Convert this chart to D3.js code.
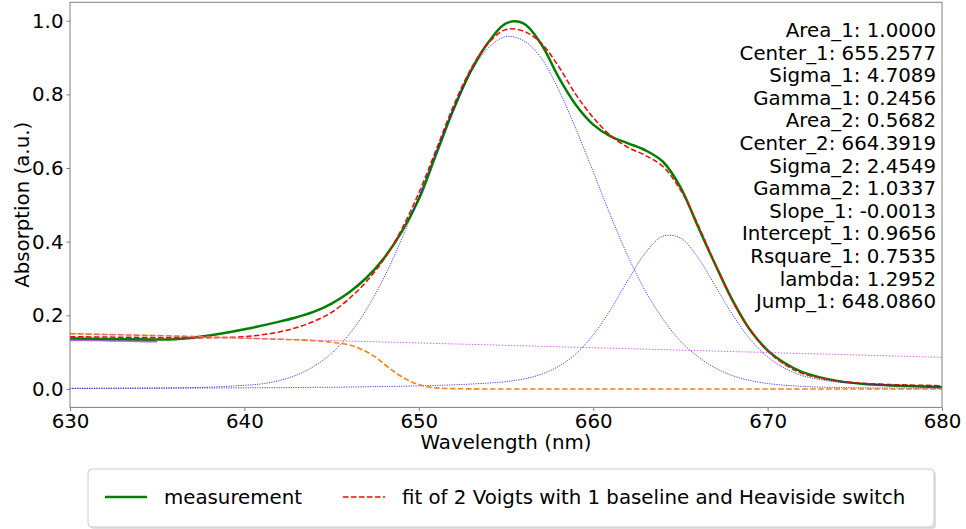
<!DOCTYPE html>
<html>
<head>
<meta charset="utf-8">
<script src="https://cdn.jsdelivr.net/npm/d3@7"></script>
<style>
  body { margin: 0; background: #fff; }
  svg text { font-family: "DejaVu Sans", sans-serif; fill: #000; }
</style>
</head>
<body>
<div id="chart"></div>
<script>
// wavelength grid shared by measurement, fit and the two Voigt components (nm)
var wavelength = [630, 632, 634, 636, 638, 640, 641, 642, 643, 644, 645, 646, 647, 648, 649, 650,
  651, 652, 653, 654, 655, 656, 657, 658, 659, 660, 661, 662, 663, 664, 665, 666, 667, 668, 669, 670,
  671, 672, 674, 676, 678, 680];

var measurement = [0.138, 0.136, 0.135, 0.135, 0.145, 0.162, 0.172, 0.183, 0.195, 0.210, 0.232, 0.262,
  0.302, 0.355, 0.425, 0.515, 0.638, 0.760, 0.865, 0.942, 0.993, 0.993, 0.938, 0.848, 0.772, 0.718,
  0.686, 0.667, 0.648, 0.617, 0.548, 0.442, 0.338, 0.240, 0.160, 0.105, 0.070, 0.046, 0.022, 0.012,
  0.008, 0.005];

var fit = [0.142, 0.141, 0.140, 0.139, 0.139, 0.142, 0.147, 0.155, 0.167, 0.184, 0.208, 0.245,
  0.292, 0.352, 0.432, 0.532, 0.650, 0.770, 0.870, 0.940, 0.976, 0.972, 0.940, 0.877, 0.800, 0.737,
  0.688, 0.656, 0.634, 0.604, 0.541, 0.447, 0.338, 0.238, 0.159, 0.103, 0.066, 0.042, 0.022, 0.014,
  0.011, 0.009];

var voigt1 = [0.0015, 0.002, 0.0025, 0.003, 0.005, 0.010, 0.014, 0.023, 0.038, 0.062, 0.097, 0.148,
  0.216, 0.302, 0.405, 0.522, 0.645, 0.760, 0.860, 0.927, 0.957, 0.946, 0.900, 0.814, 0.707, 0.590,
  0.470, 0.360, 0.265, 0.190, 0.130, 0.088, 0.057, 0.036, 0.023, 0.015, 0.010, 0.007, 0.004, 0.003,
  0.002, 0.0015];

var voigt2 = [0.0016, 0.0018, 0.002, 0.0023, 0.0027, 0.0031, 0.0033, 0.0036, 0.004, 0.0044, 0.0048,
  0.0053, 0.006, 0.0066, 0.0075, 0.0085, 0.0098, 0.0113, 0.0134, 0.0161, 0.020, 0.027, 0.0395, 0.061,
  0.095, 0.147, 0.216, 0.296, 0.370, 0.415, 0.410, 0.357, 0.280, 0.201, 0.135, 0.087, 0.056, 0.036,
  0.019, 0.0128, 0.0095, 0.0073];

// heaviside-switched baseline (orange)
var stepWl = [630, 632, 634, 636, 638, 640, 642, 644, 645, 646, 646.5, 647, 647.5, 648, 648.5, 649,
  649.5, 650, 650.5, 651, 652, 654, 660, 680];
var stepVals = [0.150, 0.148, 0.146, 0.144, 0.141, 0.138, 0.135, 0.131, 0.127, 0.120, 0.112, 0.101,
  0.087, 0.068, 0.050, 0.034, 0.021, 0.012, 0.006, 0.003, 0.001, 0, 0, 0];

// linear baseline (magenta)
var baseWl = [630, 680];
var baseVals = [0.151, 0.086];

// baseline region of the measurement (purple)
var regionWl = [630, 631, 632, 633, 634, 635];
var regionVals = [0.134, 0.134, 0.133, 0.132, 0.131, 0.130];

var xTicks = [630, 640, 650, 660, 670, 680];
var yTicks = [0, 0.2, 0.4, 0.6, 0.8, 1.0];

var paramNames = ["Area_1", "Center_1", "Sigma_1", "Gamma_1", "Area_2", "Center_2", "Sigma_2",
  "Gamma_2", "Slope_1", "Intercept_1", "Rsquare_1", "lambda", "Jump_1"];
var paramValues = ["1.0000", "655.2577", "4.7089", "0.2456", "0.5682", "664.3919", "2.4549",
  "1.0337", "-0.0013", "0.9656", "0.7535", "1.2952", "648.0860"];

var legendLabels = ["measurement", "fit of 2 Voigts with 1 baseline and Heaviside switch"];

var W = 966, H = 529;
var margin = {left: 70, right: 24, top: 2.3, bottom: 121.6};
var fs = 19.8;

var svg = d3.select("#chart").append("svg")
  .attr("width", W).attr("height", H);

var x = d3.scaleLinear().domain([630, 680]).range([margin.left, W - margin.right]);
var y = d3.scaleLinear().domain([-0.05, 1.05]).range([H - margin.bottom, margin.top]);

function pts(xs, ys) {
  return xs.map(function(d, i) { return [d, ys[i]]; });
}
var line = d3.line()
  .x(function(d) { return x(d[0]); })
  .y(function(d) { return y(d[1]); })
  .curve(d3.curveCatmullRom.alpha(0.5));

var plot = svg.append("g");

plot.append("path").datum(pts(regionWl, regionVals)).attr("d", line)
  .attr("fill", "none").attr("stroke", "#b02ee6").attr("stroke-opacity", 0.8).attr("stroke-width", 3);

plot.append("path").datum(pts(wavelength, measurement)).attr("d", line)
  .attr("fill", "none").attr("stroke", "#008000").attr("stroke-width", 2.5);

plot.append("path").datum(pts(wavelength, fit)).attr("d", line)
  .attr("fill", "none").attr("stroke", "#ff0000").attr("stroke-width", 1.5)
  .attr("stroke-dasharray", "5.5,2.5");

[voigt1, voigt2].forEach(function(v) {
  plot.append("path").datum(pts(wavelength, v)).attr("d", line)
    .attr("fill", "none").attr("stroke", "#0000ff").attr("stroke-opacity", 0.75)
    .attr("stroke-width", 1).attr("stroke-dasharray", "1.2,1.2");
});

plot.append("path").datum(pts(stepWl, stepVals)).attr("d", line)
  .attr("fill", "none").attr("stroke", "#ff7f0e").attr("stroke-width", 1.6)
  .attr("stroke-dasharray", "5.5,2.5");

plot.append("path").datum(pts(baseWl, baseVals)).attr("d", line)
  .attr("fill", "none").attr("stroke", "#c040f0").attr("stroke-opacity", 0.8)
  .attr("stroke-width", 1).attr("stroke-dasharray", "1.5,1.5");

// frame
svg.append("rect")
  .attr("x", x(630)).attr("y", y(1.05))
  .attr("width", x(680) - x(630)).attr("height", y(-0.05) - y(1.05))
  .attr("fill", "none").attr("stroke", "#808080").attr("stroke-width", 1);

// axes
var xAxis = svg.append("g").attr("transform", "translate(0," + y(-0.05) + ")")
  .call(d3.axisBottom(x).tickValues(xTicks).tickSize(3.5).tickPadding(3).tickFormat(d3.format("d")));
var yAxis = svg.append("g").attr("transform", "translate(" + x(630) + ",0)")
  .call(d3.axisLeft(y).tickValues(yTicks).tickSize(3.5).tickPadding(3).tickFormat(d3.format(".1f")));

[xAxis, yAxis].forEach(function(a) {
  a.select(".domain").remove();
  a.selectAll(".tick line").attr("stroke", "#808080");
  a.selectAll(".tick text").attr("font-size", fs).attr("font-family", "DejaVu Sans").attr("fill", "#000");
});

svg.append("text").attr("x", x(655)).attr("y", 449)
  .attr("text-anchor", "middle").attr("font-size", fs).text("Wavelength (nm)");
svg.append("text")
  .attr("transform", "translate(29," + y(0.5) + ") rotate(-90)")
  .attr("text-anchor", "middle").attr("font-size", fs).text("Absorption (a.u.)");

// fit parameters
svg.append("g").selectAll("text").data(paramNames).enter().append("text")
  .attr("x", 936)
  .attr("y", function(d, i) { return 37 + i * 22.6; })
  .attr("text-anchor", "end").attr("font-size", fs)
  .text(function(d, i) { return d + ": " + paramValues[i]; });

// legend
var lg = svg.append("g");
lg.append("rect").attr("x", 90).attr("y", 471).attr("width", 846).attr("height", 58)
  .attr("rx", 4).attr("fill", "#000").attr("opacity", 0.12);
lg.append("rect").attr("x", 88).attr("y", 469).attr("width", 846).attr("height", 58)
  .attr("rx", 4).attr("fill", "#fff").attr("stroke", "#cccccc").attr("stroke-width", 1);

var legendX = [105, 343];
var legendStyle = [
  {stroke: "#008000", width: 2.5, dash: null},
  {stroke: "#ff0000", width: 1.5, dash: "5.5,2.5"}
];
legendLabels.forEach(function(lab, i) {
  lg.append("line").attr("x1", legendX[i]).attr("x2", legendX[i] + 42)
    .attr("y1", 497).attr("y2", 497)
    .attr("stroke", legendStyle[i].stroke).attr("stroke-width", legendStyle[i].width)
    .attr("stroke-dasharray", legendStyle[i].dash);
  lg.append("text").attr("x", legendX[i] + 59).attr("y", 504)
    .attr("font-size", fs).text(lab);
});
</script>
</body>
</html>
